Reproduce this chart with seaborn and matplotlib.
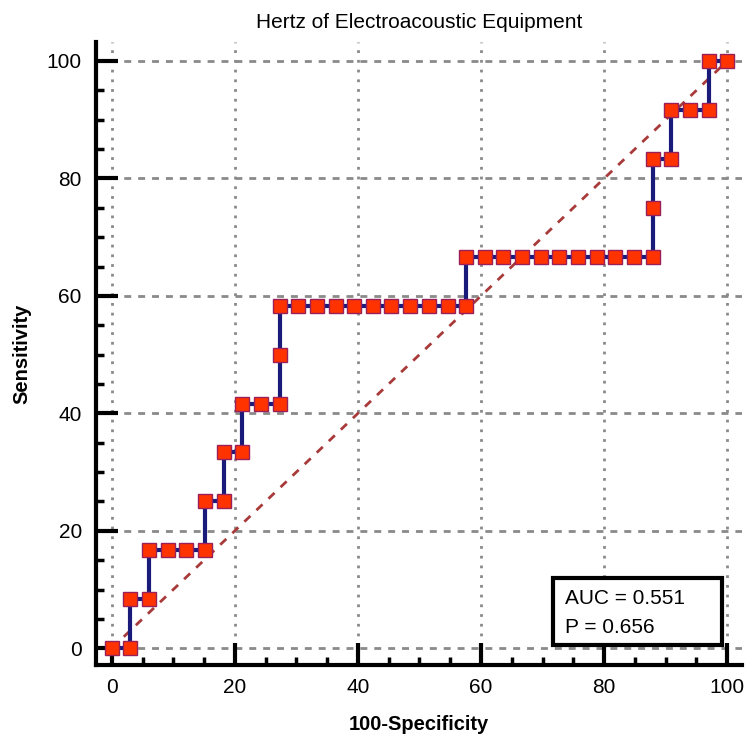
import numpy as np
import pandas as pd
import matplotlib
matplotlib.use('Agg')
import matplotlib.pyplot as plt
from matplotlib.ticker import MultipleLocator
from matplotlib.patches import Rectangle
import seaborn as sns

# --- ROC points (100-Specificity, Sensitivity) ---
fpr = [0, 3.03, 3.03, 6.06, 6.06, 9.09, 12.12, 15.15, 15.15, 18.18, 18.18,
       21.21, 21.21, 24.24, 27.27, 27.27, 27.27,
       30.30, 33.33, 36.36, 39.39, 42.42, 45.45, 48.48, 51.52, 54.55, 57.58,
       57.58, 60.61, 63.64, 66.67, 69.70, 72.73, 75.76, 78.79, 81.82, 84.85, 87.88,
       87.88, 87.88, 90.91, 90.91, 93.94, 96.97, 96.97, 100]
tpr = [0, 0, 8.33, 8.33, 16.67, 16.67, 16.67, 16.67, 25.0, 25.0, 33.33,
       33.33, 41.67, 41.67, 41.67, 50.0, 58.33,
       58.33, 58.33, 58.33, 58.33, 58.33, 58.33, 58.33, 58.33, 58.33, 58.33,
       66.67, 66.67, 66.67, 66.67, 66.67, 66.67, 66.67, 66.67, 66.67, 66.67, 66.67,
       75.0, 83.33, 83.33, 91.67, 91.67, 91.67, 100, 100]
ticks = [0, 20, 40, 60, 80, 100]
auc_text = ['AUC = 0.551', 'P = 0.656']

df = pd.DataFrame({'fpr': fpr, 'tpr': tpr})

sns.set_style('white')
plt.rcParams['font.family'] = ['Liberation Sans', 'DejaVu Sans']
plt.rcParams['text.color'] = 'black'
plt.rcParams['axes.labelcolor'] = 'black'
plt.rcParams['xtick.color'] = 'black'
plt.rcParams['ytick.color'] = 'black'

fig = plt.figure(figsize=(7.48, 7.40), dpi=100)
ax = fig.add_axes([0.128, 0.101, 0.864, 0.842])

# grid: dotted verticals, dashed horizontals
for t in ticks:
    ax.axvline(t, color='#8a8a8a', lw=2, ls=(0, (1, 2.5)), zorder=0)
    ax.axhline(t, color='#8a8a8a', lw=2, ls=(0, (2.5, 2.5)), zorder=0)

# chance diagonal
ax.plot([0, 100], [0, 100], color='#a83a3a', lw=2, ls=(0, (3, 3)), zorder=1)

# ROC curve
sns.lineplot(data=df, x='fpr', y='tpr', sort=False, estimator=None, ax=ax,
             color='#1a1a7a', lw=3, marker='s', markersize=10.5,
             markerfacecolor='#ff3300', markeredgecolor='#99205a',
             markeredgewidth=1, zorder=3)

ax.set_xlim(-2.6, 102.4)
ax.set_ylim(-2.9, 103.2)
ax.set_xticks(ticks)
ax.set_yticks(ticks)
ax.xaxis.set_minor_locator(MultipleLocator(5))
ax.yaxis.set_minor_locator(MultipleLocator(5))
ax.tick_params(which='major', direction='in', length=16, width=3, labelsize=15)
ax.tick_params(which='minor', direction='in', length=6, width=2.5)
ax.tick_params(axis='x', which='major', pad=9)
ax.tick_params(axis='y', which='major', pad=10)
ax.tick_params(bottom=True, left=True, which='both')

for s in ['top', 'right']:
    ax.spines[s].set_visible(False)
for s in ['left', 'bottom']:
    ax.spines[s].set_linewidth(3)
    ax.spines[s].set_color('black')

ax.set_xlabel('100-Specificity', fontsize=14.5, fontweight='bold', labelpad=13)
ax.set_ylabel('Sensitivity', fontsize=14.5, fontweight='bold', labelpad=11)
ax.set_title('Hertz of Electroacoustic Equipment', fontsize=15, pad=10)

# AUC box
ax.add_patch(Rectangle((0.707, 0.032), 0.262, 0.108, transform=ax.transAxes,
                       fc='white', ec='black', lw=3, zorder=5))
ax.text(0.726, 0.1075, auc_text[0], transform=ax.transAxes, fontsize=15,
        va='center', ha='left', zorder=6)
ax.text(0.726, 0.061, auc_text[1], transform=ax.transAxes, fontsize=15,
        va='center', ha='left', zorder=6)

fig.savefig('out.png', dpi=100)
